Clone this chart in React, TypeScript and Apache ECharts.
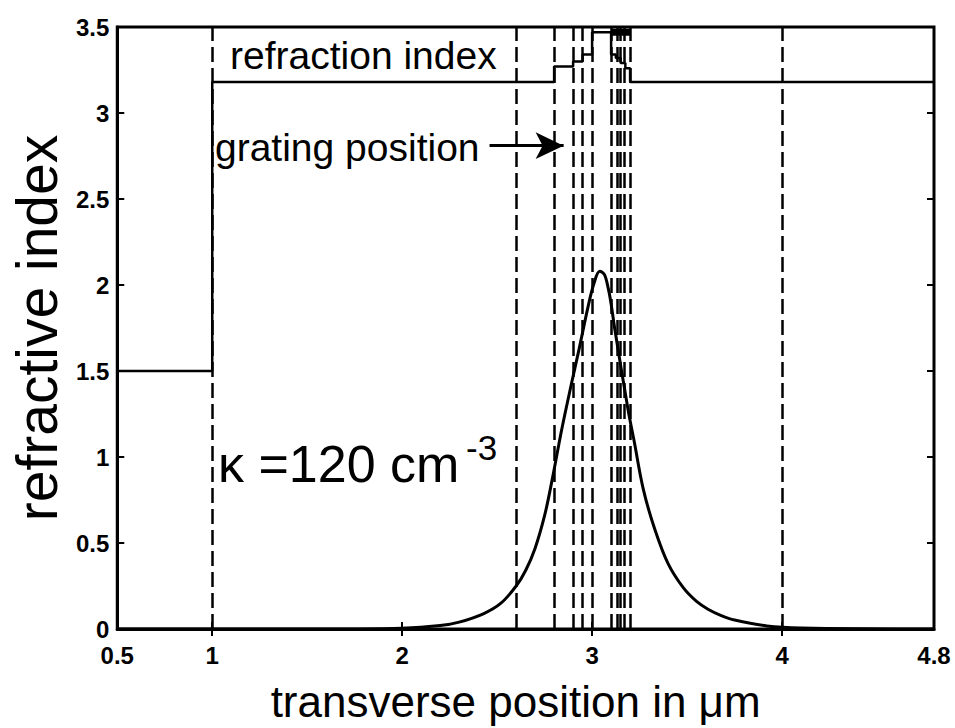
import React, { useEffect, useRef } from "react";
import * as echarts from "echarts";

// ---- data ----
const xTickLabels = [0.5, 1, 2, 3, 4, 4.8];
const xTicks = [1, 2, 3, 4];

// refractive index profile: value on [edge_i, edge_{i+1}]
const profileEdges = [0.5, 1.0, 2.8, 2.9, 2.95, 3.0, 3.1, 3.125, 3.15, 3.175, 3.2, 4.8];
const profileValues = [1.5, 3.18, 3.27, 3.3, 3.34, 3.47, 3.34, 3.32, 3.29, 3.26, 3.18, 3.18];

// dense grating region near the top
const gratingX = [3.1, 3.2];
const gratingY = [3.47, 3.47];

// mode intensity curve
const modeX = [0.5, 1.0, 1.5, 2.0, 2.2, 2.3, 2.43, 2.52, 2.6, 2.65, 2.7, 2.75, 2.79, 2.84, 2.89, 2.93, 2.98, 3.01, 3.04, 3.065, 3.085, 3.1, 3.12, 3.19, 3.22, 3.27, 3.33, 3.4, 3.48, 3.55, 3.61, 3.68, 3.75, 3.92, 4.1, 4.8];
const modeY = [0, 0, 0, 0.005, 0.02, 0.04, 0.09, 0.15, 0.25, 0.34, 0.47, 0.66, 0.87, 1.16, 1.42, 1.62, 1.88, 2.01, 2.08, 2.06, 1.98, 1.89, 1.74, 1.27, 1.1, 0.81, 0.58, 0.38, 0.24, 0.16, 0.115, 0.078, 0.052, 0.018, 0.006, 0];

// dashed layer boundaries
const dashedX = [1.0, 2.6, 2.8, 2.9, 2.95, 3.0, 3.1, 3.125, 3.15, 3.175, 3.2, 4.0];

// arrow "grating position"
const arrowFrom = [2.46, 2.81];
const arrowTo = [2.85, 2.81];

const FONT = "'Liberation Sans', Arial, Helvetica, sans-serif";

export default function App() {
  const ref = useRef<HTMLDivElement>(null);
  useEffect(() => {
    if (!ref.current) return;
    const chart = echarts.init(ref.current, null, { renderer: "svg" });
    const black = "#000";
    const option: any = {
      animation: false,
      backgroundColor: "#fff",
      textStyle: { fontFamily: FONT },
      grid: {
        left: 114,
        right: 21,
        top: 27,
        bottom: 95,
        show: true,
        borderColor: black,
        borderWidth: 3,
        backgroundColor: "transparent",
      },
      xAxis: [
        {
          type: "value",
          min: 0.5,
          max: 4.8,
          position: "bottom",
          axisLine: { show: true, onZero: false, lineStyle: { color: black, width: 3 } },
          axisTick: { show: true, inside: true, length: 7, customValues: xTicks, lineStyle: { color: black, width: 2 } },
          axisLabel: {
            customValues: xTickLabels,
            fontSize: 24,
            fontWeight: "bold",
            color: black,
            margin: 14,
            fontFamily: FONT,
            formatter: (v: number) => String(v),
          },
          splitLine: { show: false },
          name: "transverse position in μm",
          nameLocation: "middle",
          nameGap: 50,
          nameTextStyle: { fontSize: 44, color: black, fontFamily: FONT, padding: [0, 20, 0, 0] },
        },
        {
          type: "value",
          min: 0.5,
          max: 4.8,
          position: "top",
          axisLine: { show: false },
          axisTick: { show: true, inside: true, length: 7, customValues: xTicks, lineStyle: { color: black, width: 2 } },
          axisLabel: { show: false },
          splitLine: { show: false },
        },
      ],
      yAxis: [
        {
          type: "value",
          min: 0,
          max: 3.5,
          interval: 0.5,
          position: "left",
          axisLine: { show: true, lineStyle: { color: black, width: 3 } },
          axisTick: { show: true, inside: true, length: 7, lineStyle: { color: black, width: 2 } },
          axisLabel: { fontSize: 24, fontWeight: "bold", color: black, margin: 8, fontFamily: FONT },
          splitLine: { show: false },
          name: "refractive index",
          nameLocation: "middle",
          nameGap: 52,
          nameRotate: 90,
          nameTextStyle: { fontSize: 57, color: black, fontFamily: FONT },
        },
        {
          type: "value",
          min: 0,
          max: 3.5,
          interval: 0.5,
          position: "right",
          axisLine: { show: false },
          axisTick: { show: true, inside: true, length: 7, lineStyle: { color: black, width: 2 } },
          axisLabel: { show: false },
          splitLine: { show: false },
        },
      ],
      series: [
        {
          name: "mode",
          type: "line",
          data: modeX.map((x, i) => [x, modeY[i]]),
          smooth: 0.35,
          symbol: "none",
          lineStyle: { color: black, width: 3 },
          silent: true,
        },
        {
          name: "refraction index",
          type: "line",
          step: "end",
          data: profileEdges.map((x, i) => [x, profileValues[i]]),
          symbol: "none",
          lineStyle: { color: black, width: 2.5 },
          silent: true,
          markLine: {
            silent: true,
            symbol: ["none", "none"],
            label: { show: false },
            lineStyle: { color: black, width: 2.5, type: [15, 6] },
            data: dashedX.map((x) => ({ xAxis: x })),
          },
        },
        {
          name: "grating",
          type: "line",
          data: gratingX.map((x, i) => [x, gratingY[i]]),
          symbol: "none",
          lineStyle: { color: black, width: 7 },
          silent: true,
          markLine: {
            silent: true,
            symbol: ["none", "arrow"],
            symbolSize: [20, 28],
            label: { show: false },
            lineStyle: { color: black, width: 3, type: "solid" },
            data: [[{ coord: arrowFrom }, { coord: arrowTo }]],
          },
        },
      ],
      graphic: [
        {
          type: "text",
          left: 230,
          top: 36,
          style: { text: "refraction index", fontSize: 39, fill: black, fontFamily: FONT },
        },
        {
          type: "text",
          left: 215,
          top: 128,
          style: { text: "grating position", fontSize: 39, fill: black, fontFamily: FONT },
        },
        {
          type: "text",
          left: 218,
          top: 438,
          style: { text: "κ =120 cm", fontSize: 52, fill: black, fontFamily: FONT },
        },
        {
          type: "text",
          left: 466,
          top: 430,
          style: { text: "-3", fontSize: 35, fill: black, fontFamily: FONT },
        },
      ],
    };
    chart.setOption(option);
    return () => chart.dispose();
  }, []);
  return (
    <div
      ref={ref}
      style={{ position: "fixed", left: 0, top: 0, width: 955, height: 728, background: "#fff" }}
    />
  );
}
